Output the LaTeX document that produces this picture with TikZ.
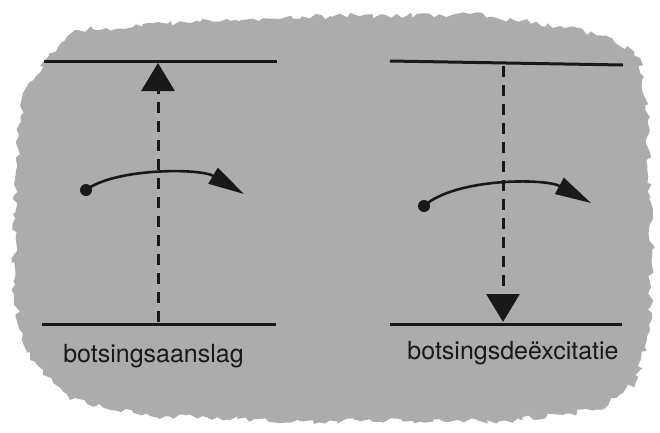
\documentclass[tikz,border=0pt]{standalone}
\usepackage{fontspec}
\setmainfont{TeX Gyre Heros}
\usetikzlibrary{arrows.meta,decorations.pathmorphing}
\definecolor{bggray}{RGB}{172,172,172}
\definecolor{ink}{RGB}{25,25,25}
\tikzset{
  level/.style={draw=ink,line width=3pt},
  trans/.style={draw=ink,line width=3pt,dash pattern=on 11pt off 8pt,-{Triangle[length=28pt,width=33pt]}},
  particle/.style={circle,fill=ink,inner sep=0pt,minimum size=12pt},
  path/.style={draw=ink,line width=2.6pt,-{Triangle[length=36pt,width=18pt]}},
  lbl/.style={anchor=base,text=ink,inner sep=0pt,font=\fontsize{25}{30}\selectfont}
}
\begin{document}
\begin{tikzpicture}[x=1pt,y=-1pt]
\useasboundingbox (0,0) rectangle (660,432);
% background paper patch
\fill[bggray,decorate,decoration={random steps,segment length=5pt,amplitude=3pt}]
  (22,98) -- (45,60) -- (75,30) -- (200,22) -- (330,16) -- (470,14) -- (560,26)
  -- (612,38) -- (640,58) -- (648,120) -- (652,250) -- (650,330) -- (636,382)
  -- (600,410) -- (500,421) -- (300,421) -- (150,416) -- (70,400) -- (30,360)
  -- (14,300) -- (15,180) -- cycle;
% left panel
\coordinate (LtA) at (44,61);
\coordinate (LtB) at (277,61);
\coordinate (LbA) at (42,324);
\coordinate (LbB) at (276,324);
\coordinate (Lup0) at (158,322);
\coordinate (Lup1) at (158,63);
\coordinate (Lend) at (244,194);
\draw[level] (LtA) -- (LtB);
\draw[level] (LbA) -- (LbB);
\draw[trans] (Lup0) -- (Lup1);
\node[particle] (Ldot) at (86,190) {};
\draw[path] (Ldot.center) .. controls (115,168) and (200,168) .. (Lend);
\node[lbl] (Llab) at (153.5,362) {botsingsaanslag};
% right panel
\coordinate (RtA) at (390,61);
\coordinate (RtB) at (623,65);
\coordinate (RbA) at (390,324);
\coordinate (RbB) at (622,324);
\coordinate (Rdn0) at (503,66);
\coordinate (Rdn1) at (503,322);
\coordinate (Rend) at (591,203);
\draw[level] (RtA) -- (RtB);
\draw[level] (RbA) -- (RbB);
\draw[trans] (Rdn0) -- (Rdn1);
\node[particle] (Rdot) at (424,206) {};
\draw[path] (Rdot.center) .. controls (455,178) and (545,178) .. (Rend);
\node[lbl] (Rlab) at (513,359) {botsingsdeëxcitatie};
\end{tikzpicture}
\end{document}
